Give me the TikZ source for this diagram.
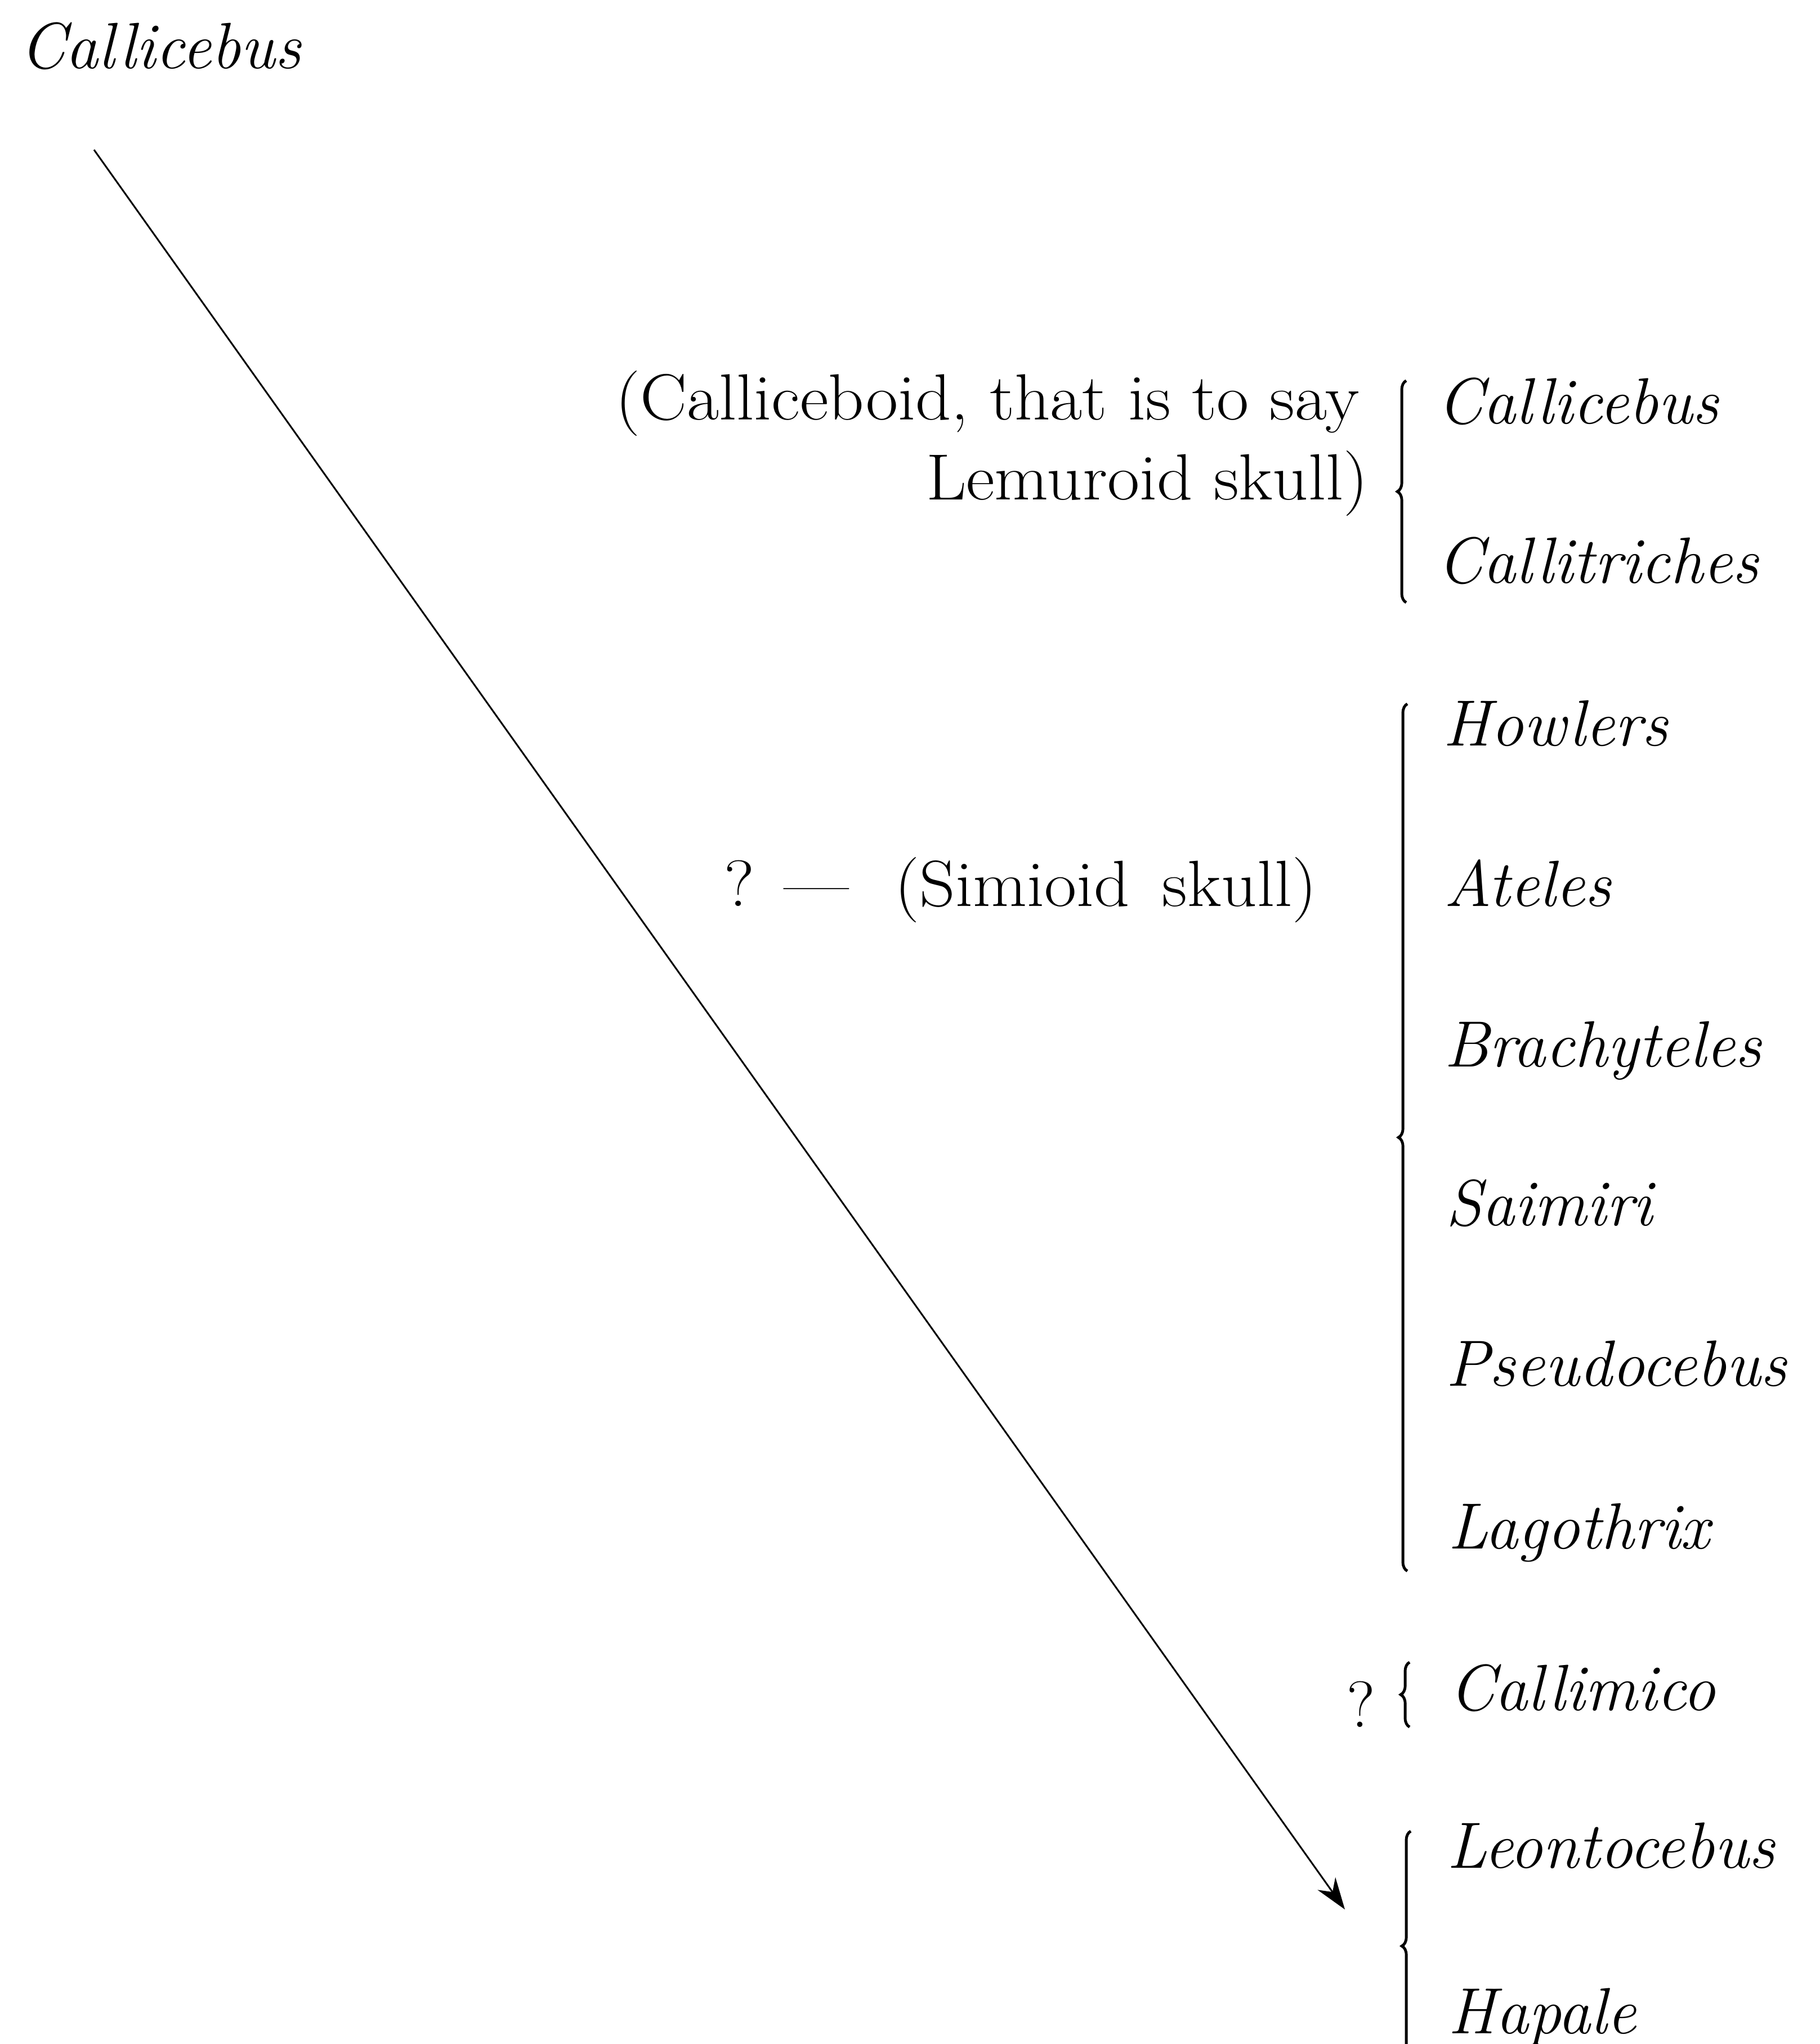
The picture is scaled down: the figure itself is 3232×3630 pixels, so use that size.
\documentclass[tikz,border=0pt]{standalone}
\usepackage{fontspec}
\usepackage{graphicx}
\usetikzlibrary{arrows.meta,decorations.pathreplacing}
\newcommand{\widen}[1]{\scalebox{1.07}[1]{#1}}
\tikzset{
  bigtext/.style={inner sep=0pt, font=\fontsize{33}{40}\selectfont},
  genus/.style={bigtext, font=\fontsize{33}{40}\selectfont\itshape, anchor=base west},
  note/.style={bigtext, anchor=base east},
  bracket/.style={decorate, decoration={brace, amplitude=4.5}, line width=1.4pt},
  evol/.style={line width=0.85pt, -{Stealth[length=16, width=11]}}
}
\begin{document}
\begin{tikzpicture}[x=0.01cm, y=-0.01cm]
\useasboundingbox (0,0) rectangle (3232,3630);

% top genus and arrow
\node[genus] (ctop) at (35,122) {Callicebus};
\coordinate (astart) at (167,266);
\coordinate (aend) at (2389,3391);
\draw[evol] (astart) -- (aend);

% Calliceboid group
\node[note] (lemA) at (2415,745) {\widen{(Calliceboid, that is to say}};
\node[note] (lemB) at (2431,887) {\widen{Lemuroid skull)}};
\node[genus] (callicebus) at (2553,752) {Callicebus};
\node[genus] (callitriches) at (2553,1035) {Callitriches};
\coordinate (b1bot) at (2498,1070);
\coordinate (b1top) at (2498,676);
\draw[bracket] (b1bot) -- (b1top);

% Simioid group
\node[note] (simioid) at (2340,1609) {\widen{?\hspace{14pt}---\hspace{22pt}(Simioid\, skull)}};
\node[genus] (howlers) at (2563,1324) {Howlers};
\node[genus] (ateles) at (2565,1609) {Ateles};
\node[genus] (brachyteles) at (2565,1894) {Brachyteles};
\node[genus] (saimiri) at (2568,2176) {Saimiri};
\node[genus] (pseudocebus) at (2568,2461) {Pseudocebus};
\node[genus] (lagothrix) at (2572,2750) {Lagothrix};
\coordinate (b2bot) at (2500,2790);
\coordinate (b2top) at (2500,1250);
\draw[bracket] (b2bot) -- (b2top);

% Callimico
\node[bigtext, anchor=base] (q) at (2418,3067) {?};
\node[genus] (callimico) at (2574,3037) {Callimico};
\coordinate (b3bot) at (2504,3067);
\coordinate (b3top) at (2504,2952);
\draw[bracket] (b3bot) -- (b3top);

% Hapalidae
\node[genus] (leontocebus) at (2570,3317) {Leontocebus};
\node[genus] (hapale) at (2572,3611) {Hapale};
\coordinate (b4bot) at (2506,3660);
\coordinate (b4top) at (2506,3252);
\draw[bracket] (b4bot) -- (b4top);
\end{tikzpicture}
\end{document}
